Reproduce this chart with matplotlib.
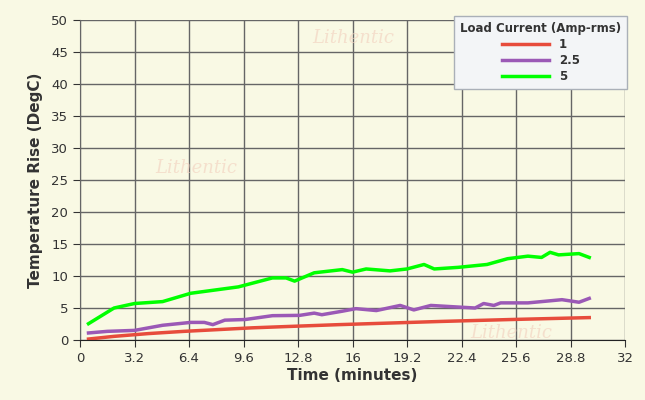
import matplotlib
matplotlib.use("Agg")
import matplotlib.pyplot as plt

g_t = [0.5,2.0,3.2,4.85,6.5,9.3,11.3,12.1,12.6,13.75,15.4,16.0,16.8,18.2,19.2,20.2,20.8,22.2,23.9,25.1,26.3,27.1,27.6,28.1,29.3,29.9]
g_v = [2.55,5.0,5.7,6.0,7.3,8.3,9.7,9.7,9.2,10.5,11.0,10.6,11.1,10.8,11.1,11.8,11.1,11.35,11.8,12.7,13.1,12.9,13.7,13.3,13.5,12.9]
p_t = [0.5,1.6,3.2,4.85,6.5,7.3,7.8,8.5,9.7,11.3,12.9,13.75,14.2,15.4,16.2,17.4,18.8,19.6,20.6,22.2,23.2,23.7,24.3,24.7,26.3,28.3,29.3,29.9]
p_v = [1.1,1.35,1.5,2.3,2.75,2.75,2.4,3.1,3.2,3.8,3.85,4.2,3.95,4.5,4.9,4.6,5.4,4.7,5.4,5.15,5.0,5.7,5.4,5.8,5.8,6.3,5.9,6.5]
r_t = [0.5,2.0,4.0,6.1,10.1,12.1,15.2,18.2,21.2,25.3,29.9]
r_v = [0.15,0.57,1.0,1.35,1.9,2.1,2.4,2.65,2.9,3.2,3.5]

bg = "#f9f9e4"
fig = plt.figure(figsize=(6.45, 4.0), dpi=100, facecolor=bg)
ax = fig.add_axes([80/645, 60/400, 545/645, 320/400], facecolor=bg)

ax.plot(r_t, r_v, color="#e74c3c", lw=2.5, label="1")
ax.plot(p_t, p_v, color="#9b59b6", lw=2.5, label="2.5")
ax.plot(g_t, g_v, color="#00ff00", lw=2.5, label="5")

ax.set_xlim(0, 32)
ax.set_ylim(0, 50)
xt = [0,3.2,6.4,9.6,12.8,16,19.2,22.4,25.6,28.8,32]
ax.set_xticks(xt)
ax.set_xticklabels(["0","3.2","6.4","9.6","12.8","16","19.2","22.4","25.6","28.8","32"])
ax.set_yticks(range(0, 51, 5))
ax.grid(True, color="#666666", lw=1)
ax.set_axisbelow(True)
for s in ["top","right"]:
    ax.spines[s].set_visible(False)
ax.spines["left"].set_color("#666666")
ax.spines["bottom"].set_color("#222222")
ax.tick_params(colors="#333333", labelsize=9.5, length=5)
ax.set_xlabel("Time (minutes)", fontsize=11, fontweight="bold", color="#333333", labelpad=2)
ax.set_ylabel("Temperature Rise (DegC)", fontsize=11, fontweight="bold", color="#333333", labelpad=6)

for (x, y) in [(312, 38), (155, 168), (470, 333)]:
    fig.text(x/645, 1 - y/400, "Lithentic", color="#f3d5c3", fontsize=13, style="italic",
             alpha=0.7, fontfamily="DejaVu Serif", va="center")

leg = ax.legend(title="Load Current (Amp-rms)", loc="upper right", bbox_to_anchor=(1.015, 1.03),
                frameon=True, fancybox=False, fontsize=8.5, title_fontsize=8.5, handlelength=4,
                borderpad=0.5, labelspacing=0.25)
leg.get_frame().set_facecolor("#f3f5f7")
leg.get_frame().set_edgecolor("#aab0b8")
leg.get_frame().set_alpha(1)
leg.get_title().set_fontweight("bold")
leg.get_title().set_color("#333333")
for t in leg.get_texts():
    t.set_fontweight("bold"); t.set_color("#333333")

fig.savefig("out.png", dpi=100, facecolor=bg)
